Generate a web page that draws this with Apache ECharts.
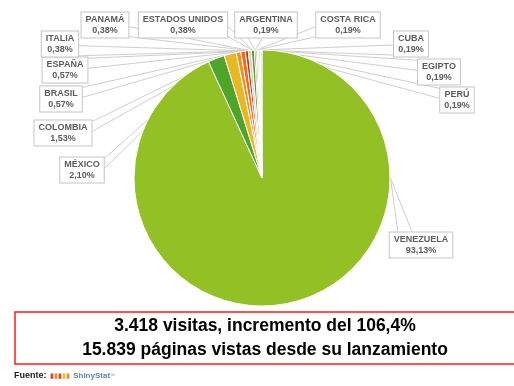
<!DOCTYPE html>
<html>
<head>
<meta charset="utf-8">
<script src="https://cdn.jsdelivr.net/npm/echarts@6/dist/echarts.min.js"></script>
<style>
  html, body { margin: 0; padding: 0; background: #fff; }
  #chart { width: 514px; height: 386px; }
</style>
</head>
<body>
<div id="chart"></div>
<script>
// Visits by country (share of total, %)
const countries = ['VENEZUELA', 'MÉXICO', 'COLOMBIA', 'BRASIL', 'ESPAÑA', 'ITALIA', 'PANAMÁ',
  'ESTADOS UNIDOS', 'ARGENTINA', 'COSTA RICA', 'CUBA', 'EGIPTO', 'PERÚ'];
const shares = [93.13, 2.10, 1.53, 0.57, 0.57, 0.38, 0.38, 0.38, 0.19, 0.19, 0.19, 0.19, 0.19];

// Slice colours, same order as the countries
const sliceColors = ['#93c025', '#4ea52a', '#e8b823', '#f0901f', '#f26a1c', '#d9291e', '#c9d9a8',
  '#6b8f2a', '#2f6019', '#86ab3c', '#d8d8c6', '#c7c7c7', '#f0cfc6'];

// Callout box centres (px)
const calloutCenters = [[421, 245], [82, 170], [63, 133], [61, 99], [65, 70], [60, 44], [105, 25],
  [183, 25], [266, 25], [348, 25], [411, 44], [439, 72], [457, 100]];

const headline = ['3.418 visitas, incremento del 106,4%', '15.839 páginas vistas desde su lanzamiento'];

const fmtPct = v => v.toFixed(2).replace('.', ',') + '%';
const clamp = (v, a, b) => Math.max(a, Math.min(b, v));

const chart = echarts.init(document.getElementById('chart'), null, { renderer: 'canvas' });

// Wedge-shaped pointer from the callout box to the slice
function calloutLayout(params) {
  const i = params.dataIndex;
  const c = calloutCenters[i];
  const w = params.labelRect.width, h = params.labelRect.height;
  const bx = c[0] - w / 2, by = c[1] - h / 2;
  let tip;
  if (i === 0) {
    tip = [params.rect.x + params.rect.width, params.rect.y + params.rect.height / 2];
  } else if (params.labelLinePoints && params.labelLinePoints.length) {
    tip = params.labelLinePoints[0];
  } else {
    tip = [params.rect.x + params.rect.width / 2, params.rect.y];
  }
  const dx = tip[0] < bx ? bx - tip[0] : (tip[0] > bx + w ? tip[0] - bx - w : 0);
  const dy = tip[1] < by ? by - tip[1] : (tip[1] > by + h ? tip[1] - by - h : 0);
  let b1, b2;
  if (dy >= dx) {
    const ey = tip[1] < by ? by : by + h;
    const mx = clamp(tip[0], bx + w * 0.25, bx + w * 0.75);
    const hw = Math.min(7, w * 0.15);
    b1 = [mx - hw, ey]; b2 = [mx + hw, ey];
  } else {
    const ex = tip[0] < bx ? bx : bx + w;
    const my = clamp(tip[1], by + h * 0.25, by + h * 0.75);
    const hh = Math.min(5, h * 0.2);
    b1 = [ex, my - hh]; b2 = [ex, my + hh];
  }
  return {
    x: c[0], y: c[1], align: 'center', verticalAlign: 'middle',
    labelLinePoints: [b1, tip, b2]
  };
}

const headFont = 'bold 17.5px "Liberation Sans", Arial, sans-serif';

chart.setOption({
  backgroundColor: '#ffffff',
  animation: false,
  graphic: [
    {
      type: 'rect', z: 10,
      shape: { x: 15, y: 312, width: 520, height: 52 },
      style: { fill: 'none', stroke: '#ff1a1a', lineWidth: 1.5 }
    },
    {
      type: 'text', z: 11,
      style: { text: headline[0], x: 265, y: 326, textAlign: 'center', textVerticalAlign: 'middle', fill: '#000', font: headFont }
    },
    {
      type: 'text', z: 11,
      style: { text: headline[1], x: 265, y: 350, textAlign: 'center', textVerticalAlign: 'middle', fill: '#000', font: headFont }
    },
    {
      type: 'text', z: 11, left: 14, top: 370,
      style: {
        text: '{f|Fuente:} {r|▮}{o|▮}{r|▮}{y|▮}{o|▮} {s|ShinyStat}{t|™}',
        rich: {
          f: { fontFamily: '"Liberation Sans", Arial', fontWeight: 'bold', fontSize: 9, fill: '#222' },
          r: { fontSize: 7, fill: '#e0402a' },
          o: { fontSize: 7, fill: '#f08a2a' },
          y: { fontSize: 7, fill: '#f2c02a' },
          s: { fontFamily: '"Liberation Sans", Arial', fontWeight: 'bold', fontSize: 8, fill: '#5b86b3' },
          t: { fontSize: 5, fill: '#888' }
        }
      }
    }
  ],
  series: [{
    type: 'pie',
    center: [262, 178],
    radius: 128,
    startAngle: 90,
    clockwise: true,
    avoidLabelOverlap: false,
    itemStyle: { borderColor: '#ffffff', borderWidth: 1 },
    label: {
      show: true,
      position: 'outside',
      formatter: p => p.name + '\n' + fmtPct(p.value),
      backgroundColor: '#ffffff',
      borderColor: '#c4c4c4',
      borderWidth: 1,
      padding: [2, 4, 1, 4],
      fontFamily: '"Liberation Sans", Arial, sans-serif',
      fontSize: 9,
      fontWeight: 'bold',
      lineHeight: 11,
      color: '#5c5c5c',
      align: 'center'
    },
    labelLine: {
      show: true, length: 6, length2: 6, smooth: false,
      lineStyle: { color: '#cfcfcf', width: 1 }
    },
    labelLayout: calloutLayout,
    data: countries.map((name, i) => ({
      name: name, value: shares[i], itemStyle: { color: sliceColors[i] }
    }))
  }]
});
</script>
</body>
</html>
